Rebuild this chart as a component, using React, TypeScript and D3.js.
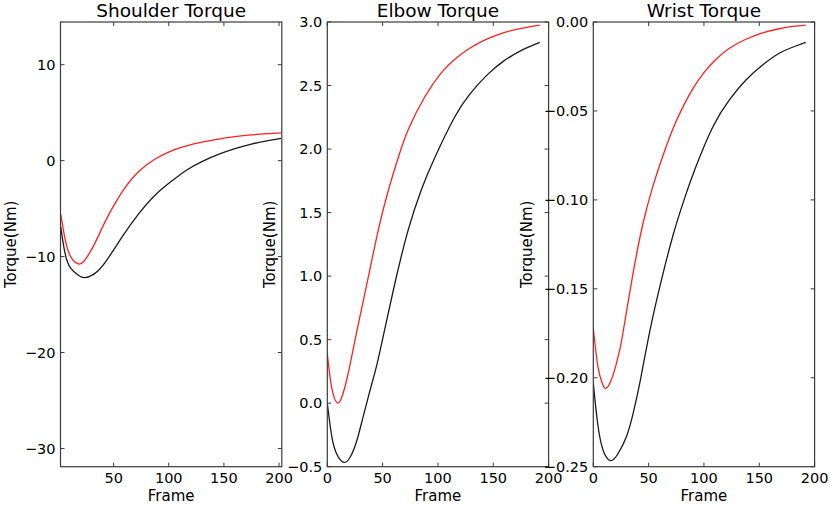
import React from "react";
import * as d3 from "d3";

// shoulder panel (frames)
const shoulderFrames = [2, 6, 11, 18, 24, 33, 43, 58, 73, 88, 103, 116, 130, 145, 160, 175, 190, 202];
const shoulderRed = [-5.6, -8.2, -10.0, -10.76, -10.35, -8.6, -6.2, -3.2, -1.1, 0.2, 1.05, 1.55, 1.93, 2.25, 2.5, 2.68, 2.81, 2.9];
const shoulderBlack = [-6.9, -9.7, -11.2, -11.95, -12.2, -11.75, -10.5, -7.9, -5.5, -3.55, -2.1, -1.0, -0.1, 0.65, 1.25, 1.73, 2.08, 2.33];

// elbow panel
const elbowRedFrames = [0, 4, 9.5, 14, 18, 23.5, 28, 37, 46, 55, 64, 73, 88, 103, 115, 129, 144, 159, 175, 192];
const elbowRed = [0.39, 0.12, 0.0, 0.07, 0.2, 0.43, 0.62, 0.99, 1.36, 1.67, 1.93, 2.15, 2.41, 2.6, 2.705, 2.795, 2.865, 2.915, 2.95, 2.976];
const elbowBlackFrames = [0, 4, 8.5, 15, 21, 26.5, 32, 38.6, 45, 50.6, 61, 73, 85, 97, 115, 129, 144, 159, 175, 192];
const elbowBlack = [0.0, -0.26, -0.4, -0.466, -0.42, -0.3, -0.12, 0.1, 0.31, 0.53, 0.94, 1.36, 1.68, 1.93, 2.25, 2.435, 2.58, 2.69, 2.775, 2.84];

// wrist panel
const wristRedFrames = [0, 4, 8, 11, 15, 20, 24, 27, 36, 45, 54, 63, 72, 80, 90, 100, 110, 123, 138, 153, 168, 180, 192];
const wristRed = [-0.172, -0.193, -0.203, -0.206, -0.203, -0.194, -0.184, -0.174, -0.141, -0.113, -0.092, -0.075, -0.06, -0.049, -0.0375, -0.0285, -0.0215, -0.0148, -0.0097, -0.0061, -0.0038, -0.0025, -0.0017];
const wristBlackFrames = [0, 4, 9, 15.6, 22, 30, 36, 42, 51, 61.6, 72, 82, 92, 108, 123, 138, 153, 168, 180, 192];
const wristBlack = [-0.203, -0.226, -0.241, -0.2466, -0.243, -0.233, -0.22, -0.203, -0.174, -0.145, -0.12, -0.1, -0.0825, -0.059, -0.0438, -0.0326, -0.0242, -0.0176, -0.0142, -0.0114];

const titles = ["Shoulder Torque", "Elbow Torque", "Wrist Torque"];
const shoulderYTicks = [-30, -20, -10, 0, 10];
const elbowYTicks = [-0.5, 0, 0.5, 1, 1.5, 2, 2.5, 3];
const wristYTicks = [-0.25, -0.2, -0.15, -0.1, -0.05, 0];
const shoulderXTicks = [50, 100, 150, 200];
const frameTicks = [0, 50, 100, 150, 200];

const FONT = "DejaVu Sans, sans-serif";
const TOP = 22;
const BOTTOM = 466.7;
const PW = 221.3;

const minus = (s: string) => s.replace("-", "\u2212");

type Series = { xs: number[]; ys: number[]; color: string };

interface PanelProps {
  left: number;
  title: string;
  xDomain: [number, number];
  yDomain: [number, number];
  xTicks: number[];
  yTicks: number[];
  fmt: (v: number) => string;
  labelX: number;
  series: Series[];
}

const Panel: React.FC<PanelProps> = ({ left, title, xDomain, yDomain, xTicks, yTicks, fmt, labelX, series }) => {
  const x = d3.scaleLinear().domain(xDomain).range([left, left + PW]);
  const y = d3.scaleLinear().domain(yDomain).range([BOTTOM, TOP]);
  const tk = 4;
  const clipId = `clip-${Math.round(left)}`;

  return (
    <g>
      <defs>
        <clipPath id={clipId}>
          <rect x={left} y={TOP} width={PW} height={BOTTOM - TOP} />
        </clipPath>
      </defs>
      <g clipPath={`url(#${clipId})`}>
        {series.map((s, i) => {
          const pts = s.xs.map((f, j) => [f, s.ys[j]] as [number, number]);
          const path = d3
            .line<[number, number]>()
            .x((d) => x(d[0]))
            .y((d) => y(d[1]))
            .curve(d3.curveNatural)(pts);
          return <path key={i} d={path || ""} fill="none" stroke={s.color} strokeWidth={1.3} />;
        })}
      </g>
      <rect x={left} y={TOP} width={PW} height={BOTTOM - TOP} fill="none" stroke="#3a3a3a" strokeWidth={1.2} />
      {xTicks.map((t) => (
        <g key={`x${t}`}>
          <line x1={x(t)} x2={x(t)} y1={BOTTOM} y2={BOTTOM - tk} stroke="#3a3a3a" />
          <line x1={x(t)} x2={x(t)} y1={TOP} y2={TOP + tk} stroke="#3a3a3a" />
          <text x={x(t)} y={482.5} textAnchor="middle" fontSize={14.5} fontFamily={FONT}>
            {t}
          </text>
        </g>
      ))}
      {yTicks.map((t) => (
        <g key={`y${t}`}>
          <line x1={left} x2={left + tk} y1={y(t)} y2={y(t)} stroke="#3a3a3a" />
          <line x1={left + PW} x2={left + PW - tk} y1={y(t)} y2={y(t)} stroke="#3a3a3a" />
          <text x={left - 5} y={y(t)} dy="0.36em" textAnchor="end" fontSize={14.5} fontFamily={FONT}>
            {minus(fmt(t))}
          </text>
        </g>
      ))}
      <text x={left + PW / 2} y={17} textAnchor="middle" fontSize={18.5} fontFamily={FONT}>
        {title}
      </text>
      <text x={left + PW / 2} y={501} textAnchor="middle" fontSize={15} fontFamily={FONT}>
        Frame
      </text>
      <text
        transform={`translate(${labelX},${(TOP + BOTTOM) / 2}) rotate(-90)`}
        textAnchor="middle"
        fontSize={15}
        fontFamily={FONT}
      >
        Torque(Nm)
      </text>
    </g>
  );
};

const App: React.FC = () => {
  return (
    <svg width={830} height={505} style={{ position: "absolute", left: 0, top: 0, background: "#fff" }}>
      <rect width={830} height={505} fill="#fff" />
      <Panel
        left={60.5}
        title={titles[0]}
        xDomain={[1.8, 202.5]}
        yDomain={[-31.9, 14.45]}
        xTicks={shoulderXTicks}
        yTicks={shoulderYTicks}
        fmt={d3.format("d")}
        labelX={15.5}
        series={[
          { xs: shoulderFrames, ys: shoulderBlack, color: "#1a1a1a" },
          { xs: shoulderFrames, ys: shoulderRed, color: "#ff2020" },
        ]}
      />
      <Panel
        left={327.3}
        title={titles[1]}
        xDomain={[0, 200]}
        yDomain={[-0.5, 3.0]}
        xTicks={frameTicks}
        yTicks={elbowYTicks}
        fmt={d3.format(".1f")}
        labelX={274.7}
        series={[
          { xs: elbowBlackFrames, ys: elbowBlack, color: "#1a1a1a" },
          { xs: elbowRedFrames, ys: elbowRed, color: "#ff2020" },
        ]}
      />
      <Panel
        left={593.3}
        title={titles[2]}
        xDomain={[0, 200]}
        yDomain={[-0.25, 0]}
        xTicks={frameTicks}
        yTicks={wristYTicks}
        fmt={d3.format(".2f")}
        labelX={532}
        series={[
          { xs: wristBlackFrames, ys: wristBlack, color: "#1a1a1a" },
          { xs: wristRedFrames, ys: wristRed, color: "#ff2020" },
        ]}
      />
    </svg>
  );
};

export default App;
